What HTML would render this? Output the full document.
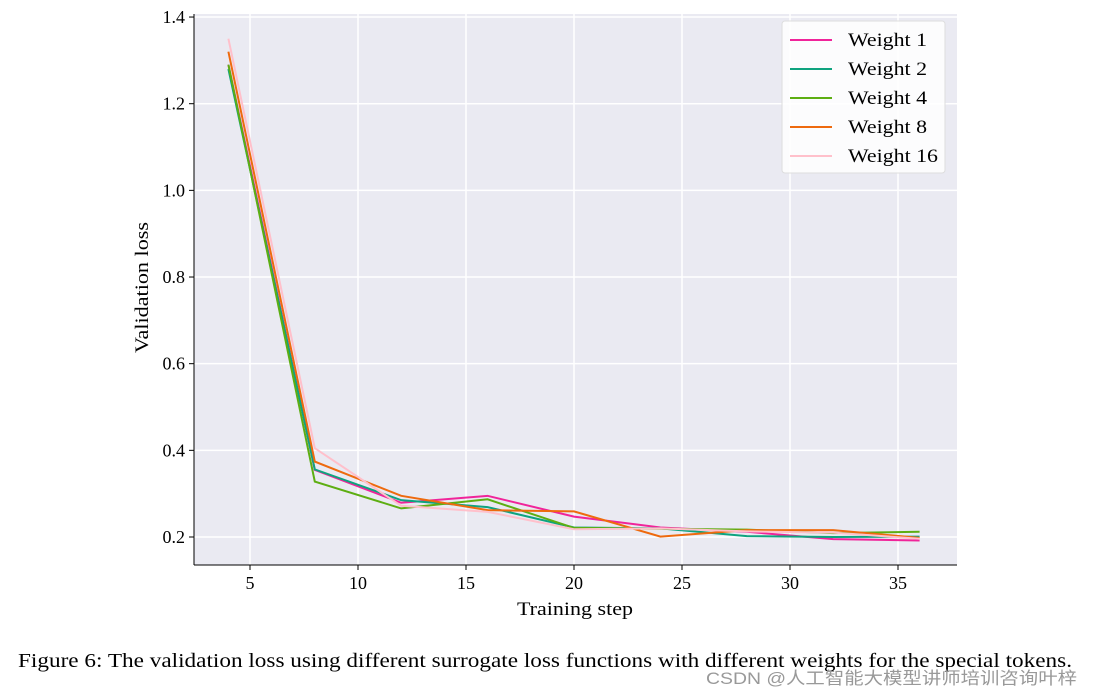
<!DOCTYPE html>
<html><head><meta charset="utf-8">
<style>
body{margin:0;background:#fff;width:1093px;height:698px;overflow:hidden;font-family:"Liberation Serif",serif;}
svg{position:absolute;left:0;top:0}
</style></head><body>
<svg id="chart" width="1093" height="698">
<text x="18" y="667" font-size="20" textLength="1054" lengthAdjust="spacingAndGlyphs">Figure 6: The validation loss using different surrogate loss functions with different weights for the special tokens.</text>
<text x="706" y="684" font-size="17" fill="#999" font-family="Liberation Sans, Noto Sans CJK SC, sans-serif" textLength="371" lengthAdjust="spacingAndGlyphs">CSDN @人工智能大模型讲师培训咨询叶梓</text>
</svg>
<script>
const steps=[4,8,12,16,20,24,28,32,36];
const seriesNames=["Weight 1","Weight 2","Weight 4","Weight 8","Weight 16"];
const colors=["#f0249a","#0fa37f","#5dae12","#ee6a0e","#ffc0cb"];
const w1=[1.29,0.355,0.279,0.295,0.247,0.222,0.212,0.195,0.192];
const w2=[1.28,0.356,0.285,0.269,0.222,0.220,0.202,0.200,0.201];
const w4=[1.29,0.328,0.266,0.287,0.221,0.219,0.217,0.209,0.212];
const w8=[1.32,0.374,0.295,0.262,0.259,0.201,0.216,0.216,0.198];
const w16=[1.35,0.405,0.272,0.258,0.218,0.220,0.213,0.210,0.196];
const xTicks=[5,10,15,20,25,30,35];
const yTicks=[0.2,0.4,0.6,0.8,1.0,1.2,1.4];
const series=[w1,w2,w4,w8,w16];
const L=194,R=957,T=14,B=565;
const xs=v=>250+(v-5)*21.6;
const ys=v=>537-(v-0.2)*433.3;
const svg=document.getElementById('chart');
const NS="http://www.w3.org/2000/svg";
function mk(tag,attrs,parent){const e=document.createElementNS(NS,tag);for(const k in attrs)e.setAttribute(k,attrs[k]);(parent||svg).appendChild(e);return e;}
const bg=mk('rect',{x:L,y:T,width:R-L,height:B-T,fill:'#eaeaf2'});


xTicks.forEach(t=>{
 const g=mk('line',{x1:xs(t),x2:xs(t),y1:T,y2:B,stroke:'#fff','stroke-width':1.5});
 
 
 mk('line',{x1:xs(t),x2:xs(t),y1:B,y2:B+5,stroke:'#000'});
 const tx=mk('text',{x:xs(t),y:B+24,'text-anchor':'middle','font-size':18});
 tx.textContent=t;
 
 
});
yTicks.forEach(t=>{
 const g=mk('line',{x1:L,x2:R,y1:ys(t),y2:ys(t),stroke:'#fff','stroke-width':1.5});
 
 
 mk('line',{x1:L-5,x2:L,y1:ys(t),y2:ys(t),stroke:'#000'});
 const tx=mk('text',{x:L-9,y:ys(t)+6,'text-anchor':'end','font-size':18});
 tx.textContent=t.toFixed(1);
 
 
});
mk('line',{x1:L,x2:L,y1:T,y2:B,stroke:'#000','stroke-width':1});
mk('line',{x1:L,x2:R,y1:B,y2:B,stroke:'#000','stroke-width':1});
series.forEach((s,i)=>{
 const p=mk('polyline',{points:s.map((v,j)=>xs(steps[j])+','+ys(v)).join(' '),fill:'none',stroke:colors[i],'stroke-width':2});
 
 
});
const xt=mk('text',{x:517,y:615,'font-size':19,textLength:116,lengthAdjust:'spacingAndGlyphs'});
xt.textContent='Training step';


const yt=mk('text',{x:0,y:0,'font-size':19,textLength:131,lengthAdjust:'spacingAndGlyphs',transform:'translate(148,353) rotate(-90)'});
yt.textContent='Validation loss';


const lg=mk('rect',{x:782,y:21,width:163,height:152,fill:'#fff','fill-opacity':0.85,stroke:'#ddd',rx:3});


const lens=[79,79,79,79,90];
seriesNames.forEach((n,i)=>{
 const y=40+i*29;
 mk('line',{x1:790,x2:832,y1:y,y2:y,stroke:colors[i],'stroke-width':2});
 const t=mk('text',{x:848,y:y+6,'font-size':19,textLength:lens[i],lengthAdjust:'spacingAndGlyphs'});
 t.textContent=n;
 
 
});
</script>
</body></html>
